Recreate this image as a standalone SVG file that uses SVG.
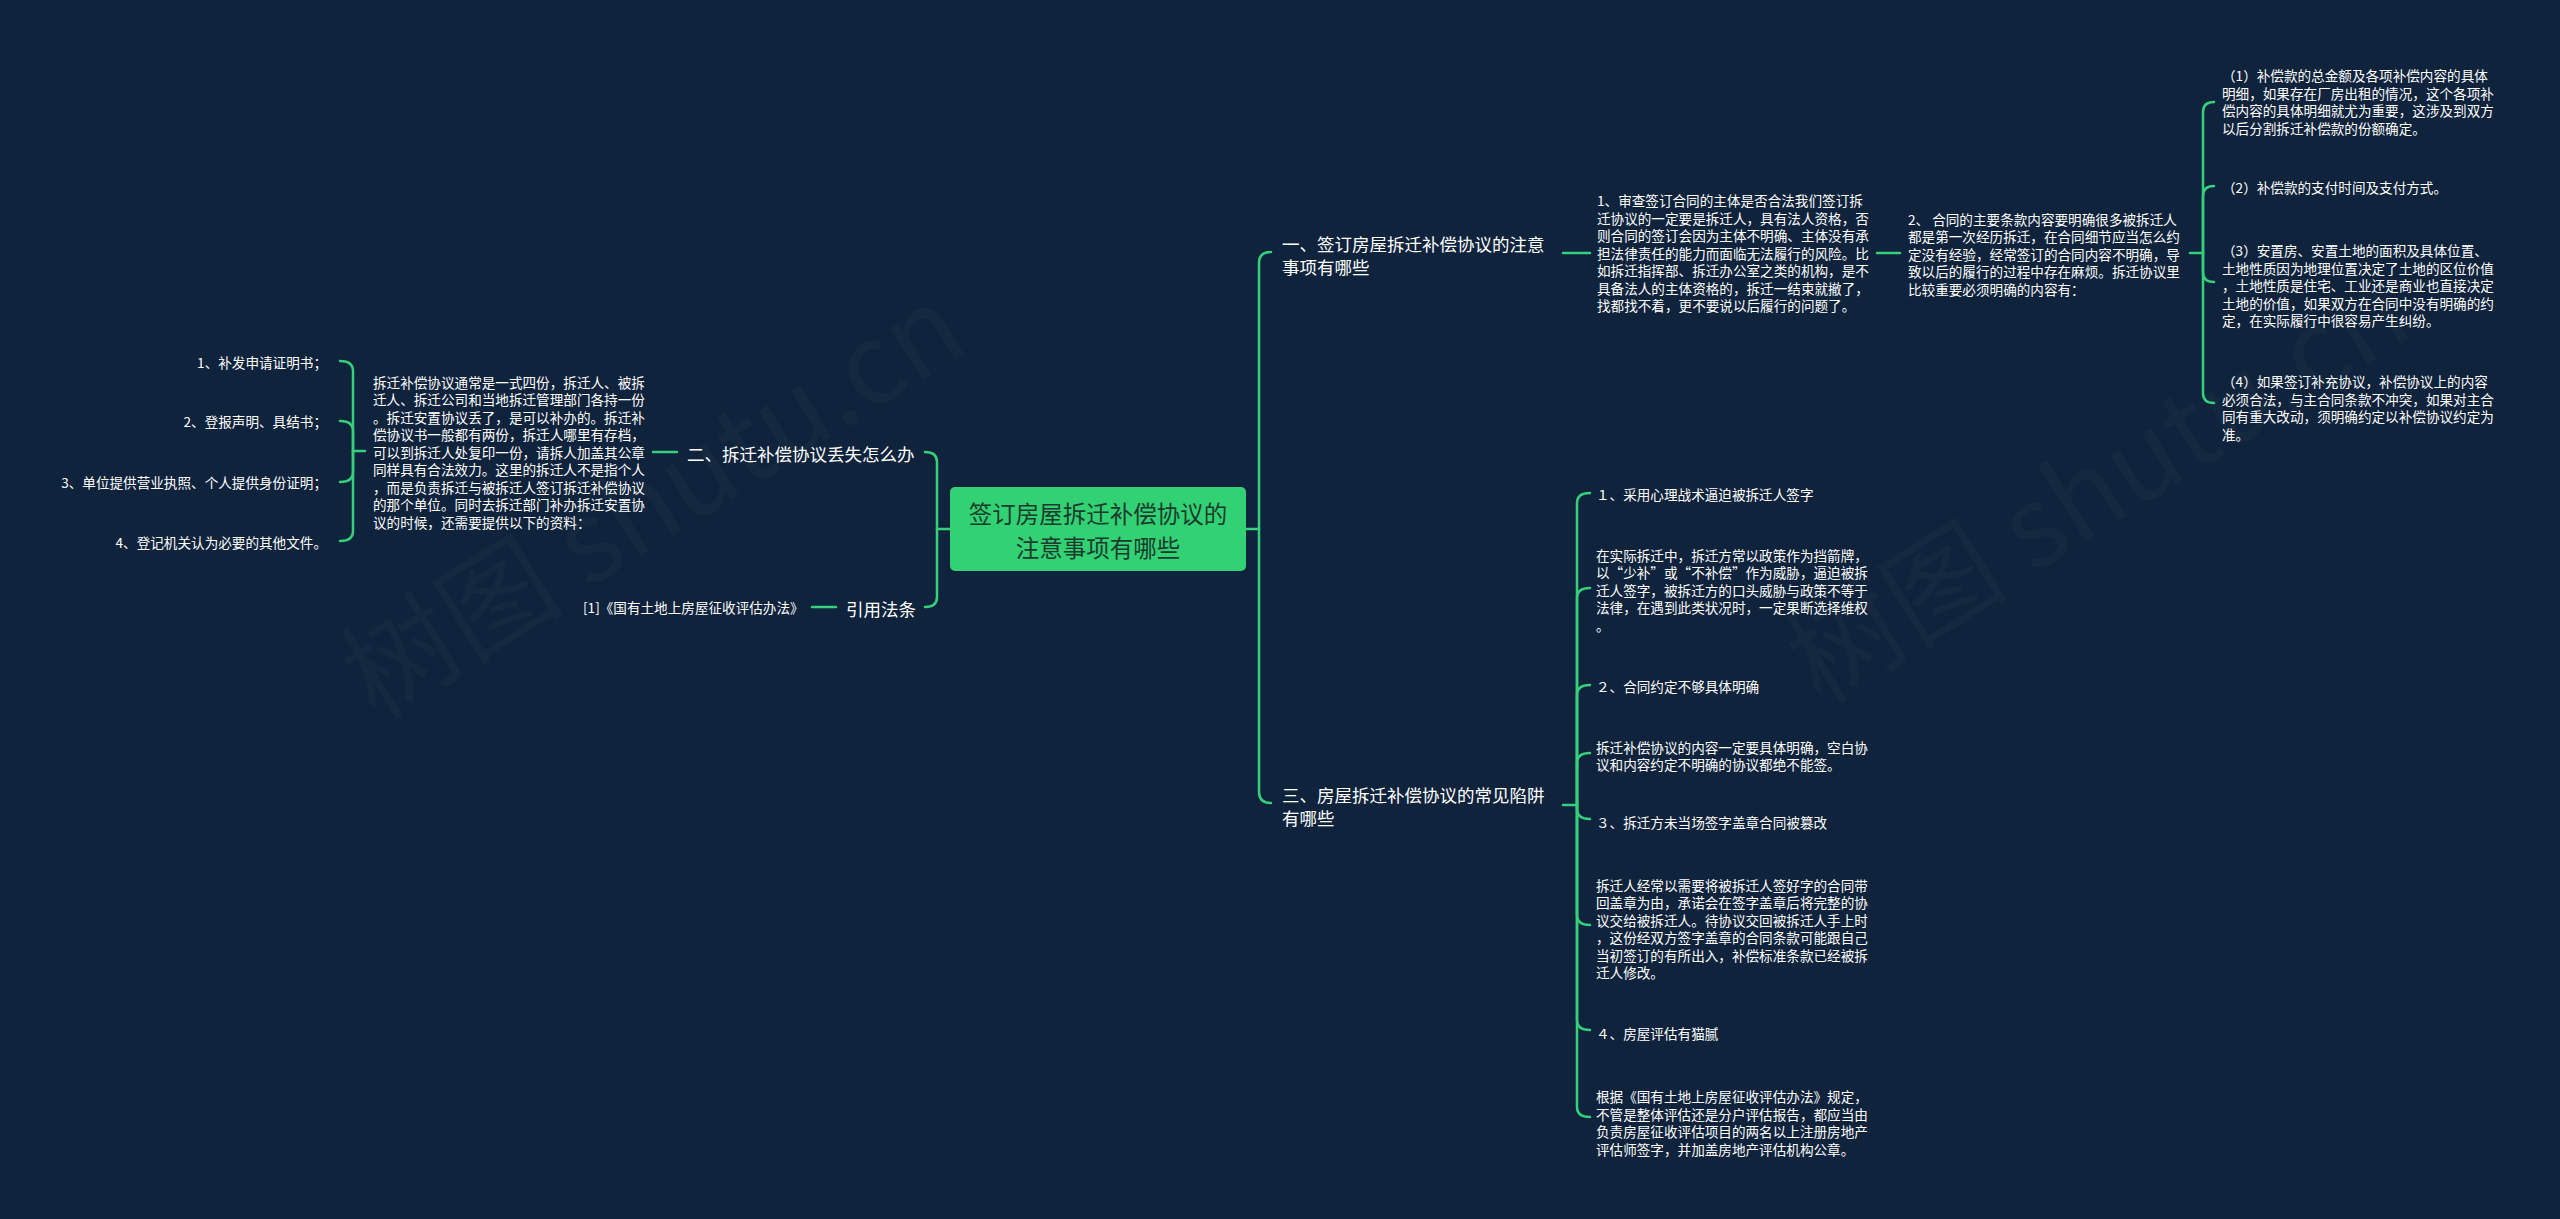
<svg xmlns="http://www.w3.org/2000/svg" width="2560" height="1219" viewBox="0 0 2560 1219">
<defs>
<style>
text { font-family: "Noto Sans CJK SC", "Noto Sans", sans-serif; dominant-baseline: central; }
.bg { fill: #0f233c; }
.c { fill: none; stroke: #36d07c; stroke-width: 2.5; stroke-linecap: round; stroke-linejoin: round; }
.t1 { fill: #ffffff; font-size: 17.5px; }
.t2 { fill: #ffffff; font-size: 13.6px; }
.root { fill: #32d174; }
.rt { fill: #1b3b2c; font-size: 23.5px; text-anchor: middle; }
.wm { fill: #ffffff; fill-opacity: 0.025; font-size: 112px; font-family: "Noto Sans CJK SC", "Noto Sans", sans-serif; }
</style>
</defs>
<rect class="bg" x="0" y="0" width="2560" height="1219"/>

<g id="watermark">
<text class="wm" transform="translate(350,680) rotate(-32)">树图 shutu.cn</text>
<text class="wm" transform="translate(1795,665) rotate(-32)">树图 shutu.cn</text>
</g>

<g id="connectors">
<path class="c" d="M 950 529 L 937 529"/>
<path class="c" d="M 937 529 L 937 462 Q 937 452 925 452"/>
<path class="c" d="M 937 529 L 937 597 Q 937 607 925 607"/>
<path class="c" d="M 677 452 L 653 452"/>
<path class="c" d="M 836 607 L 812 607"/>
<path class="c" d="M 365 451 L 353 451"/>
<path class="c" d="M 353 451 L 353 371 Q 353 361 340 361"/>
<path class="c" d="M 353 451 L 353 431 Q 353 421 340 421"/>
<path class="c" d="M 353 451 L 353 472 Q 353 482 340 482"/>
<path class="c" d="M 353 451 L 353 531 Q 353 541 340 541"/>
<path class="c" d="M 1246 529 L 1259 529"/>
<path class="c" d="M 1259 529 L 1259 263 Q 1259 252 1271 252"/>
<path class="c" d="M 1259 529 L 1259 792 Q 1259 803 1271 803"/>
<path class="c" d="M 1563 253 L 1590 253"/>
<path class="c" d="M 1877 253 L 1900 253"/>
<path class="c" d="M 2190 253 L 2203 253"/>
<path class="c" d="M 2203 253 L 2203 112 Q 2203 102 2214 102"/>
<path class="c" d="M 2203 253 L 2203 196 Q 2203 186 2214 186"/>
<path class="c" d="M 2203 253 L 2203 272 Q 2203 282 2214 282"/>
<path class="c" d="M 2203 253 L 2203 393 Q 2203 403 2214 403"/>
<path class="c" d="M 1563 805 L 1577 805"/>
<path class="c" d="M 1577 805 L 1577 503 Q 1577 493 1590 493"/>
<path class="c" d="M 1577 805 L 1577 598 Q 1577 588 1590 588"/>
<path class="c" d="M 1577 805 L 1577 695 Q 1577 685 1590 685"/>
<path class="c" d="M 1577 805 L 1577 763 Q 1577 753 1590 753"/>
<path class="c" d="M 1577 805 L 1577 809 Q 1577 819 1590 819"/>
<path class="c" d="M 1577 805 L 1577 915 Q 1577 925 1590 925"/>
<path class="c" d="M 1577 805 L 1577 1020 Q 1577 1030 1590 1030"/>
<path class="c" d="M 1577 805 L 1577 1107 Q 1577 1117 1590 1117"/>
</g>

<g id="root">
<rect class="root" x="950" y="487" width="296" height="84" rx="5"/>
<text class="rt" x="1098" y="513">签订房屋拆迁补偿协议的</text>
<text class="rt" x="1098" y="547">注意事项有哪些</text>
</g>

<g id="n-lost">
<text class="t1" x="687" y="453">二、拆迁补偿协议丢失怎么办</text>
</g>
<g id="n-lost-detail">
<text class="t2" x="373">
<tspan x="373" y="381.7">拆迁补偿协议通常是一式四份，拆迁人、被拆</tspan>
<tspan x="373" y="399.2">迁人、拆迁公司和当地拆迁管理部门各持一份</tspan>
<tspan x="373" y="416.7">。拆迁安置协议丢了，是可以补办的。拆迁补</tspan>
<tspan x="373" y="434.2">偿协议书一般都有两份，拆迁人哪里有存档，</tspan>
<tspan x="373" y="451.7">可以到拆迁人处复印一份，请拆人加盖其公章</tspan>
<tspan x="373" y="469.2">同样具有合法效力。这里的拆迁人不是指个人</tspan>
<tspan x="373" y="486.7">，而是负责拆迁与被拆迁人签订拆迁补偿协议</tspan>
<tspan x="373" y="504.2">的那个单位。同时去拆迁部门补办拆迁安置协</tspan>
<tspan x="373" y="521.7">议的时候，还需要提供以下的资料：</tspan>
</text>
</g>
<g id="n-item1"><text class="t2" x="327" y="361.5" text-anchor="end">1、补发申请证明书；</text></g>
<g id="n-item2"><text class="t2" x="327" y="421" text-anchor="end">2、登报声明、具结书；</text></g>
<g id="n-item3"><text class="t2" x="327" y="482" text-anchor="end">3、单位提供营业执照、个人提供身份证明；</text></g>
<g id="n-item4"><text class="t2" x="327" y="541.5" text-anchor="end">4、登记机关认为必要的其他文件。</text></g>

<g id="n-law"><text class="t1" x="846" y="608">引用法条</text></g>
<g id="n-law-ref"><text class="t2" x="583" y="607">[1]《国有土地上房屋征收评估办法》</text></g>

<g id="n-sign">
<text class="t1" x="1282" y="243">一、签订房屋拆迁补偿协议的注意</text>
<text class="t1" x="1282" y="266">事项有哪些</text>
</g>
<g id="n-sign-1">
<text class="t2">
<tspan x="1597" y="200.2">1、审查签订合同的主体是否合法我们签订拆</tspan>
<tspan x="1597" y="217.7">迁协议的一定要是拆迁人，具有法人资格，否</tspan>
<tspan x="1597" y="235.2">则合同的签订会因为主体不明确、主体没有承</tspan>
<tspan x="1597" y="252.7">担法律责任的能力而面临无法履行的风险。比</tspan>
<tspan x="1597" y="270.2">如拆迁指挥部、拆迁办公室之类的机构，是不</tspan>
<tspan x="1597" y="287.7">具备法人的主体资格的，拆迁一结束就撤了，</tspan>
<tspan x="1597" y="305.2">找都找不着，更不要说以后履行的问题了。</tspan>
</text>
</g>
<g id="n-sign-2">
<text class="t2">
<tspan x="1908" y="218.5">2、 合同的主要条款内容要明确很多被拆迁人</tspan>
<tspan x="1908" y="236">都是第一次经历拆迁，在合同细节应当怎么约</tspan>
<tspan x="1908" y="253.5">定没有经验，经常签订的合同内容不明确，导</tspan>
<tspan x="1908" y="271">致以后的履行的过程中存在麻烦。拆迁协议里</tspan>
<tspan x="1908" y="288.5">比较重要必须明确的内容有：</tspan>
</text>
</g>
<g id="n-c1">
<text class="t2">
<tspan x="2222" y="75">（1）补偿款的总金额及各项补偿内容的具体</tspan>
<tspan x="2222" y="92.5">明细，如果存在厂房出租的情况，这个各项补</tspan>
<tspan x="2222" y="110">偿内容的具体明细就尤为重要，这涉及到双方</tspan>
<tspan x="2222" y="127.5">以后分割拆迁补偿款的份额确定。</tspan>
</text>
</g>
<g id="n-c2"><text class="t2" x="2222" y="187">（2）补偿款的支付时间及支付方式。</text></g>
<g id="n-c3">
<text class="t2">
<tspan x="2222" y="250">（3）安置房、安置土地的面积及具体位置、</tspan>
<tspan x="2222" y="267.5">土地性质因为地理位置决定了土地的区位价值</tspan>
<tspan x="2222" y="285">，土地性质是住宅、工业还是商业也直接决定</tspan>
<tspan x="2222" y="302.5">土地的价值，如果双方在合同中没有明确的约</tspan>
<tspan x="2222" y="320">定，在实际履行中很容易产生纠纷。</tspan>
</text>
</g>
<g id="n-c4">
<text class="t2">
<tspan x="2222" y="381">（4）如果签订补充协议，补偿协议上的内容</tspan>
<tspan x="2222" y="398.5">必须合法，与主合同条款不冲突，如果对主合</tspan>
<tspan x="2222" y="416">同有重大改动，须明确约定以补偿协议约定为</tspan>
<tspan x="2222" y="433.5">准。</tspan>
</text>
</g>

<g id="n-trap">
<text class="t1" x="1282" y="794">三、房屋拆迁补偿协议的常见陷阱</text>
<text class="t1" x="1282" y="817">有哪些</text>
</g>
<g id="n-trap-1"><text class="t2" x="1596" y="494">１、采用心理战术逼迫被拆迁人签字</text></g>
<g id="n-trap-1d">
<text class="t2">
<tspan x="1596" y="554.5">在实际拆迁中，拆迁方常以政策作为挡箭牌，</tspan>
<tspan x="1596" y="572">以“少补”或“不补偿”作为威胁，逼迫被拆</tspan>
<tspan x="1596" y="589.5">迁人签字，被拆迁方的口头威胁与政策不等于</tspan>
<tspan x="1596" y="607">法律，在遇到此类状况时，一定果断选择维权</tspan>
<tspan x="1596" y="624.5">。</tspan>
</text>
</g>
<g id="n-trap-2"><text class="t2" x="1596" y="686">２、合同约定不够具体明确</text></g>
<g id="n-trap-2d">
<text class="t2">
<tspan x="1596" y="746.5">拆迁补偿协议的内容一定要具体明确，空白协</tspan>
<tspan x="1596" y="764">议和内容约定不明确的协议都绝不能签。</tspan>
</text>
</g>
<g id="n-trap-3"><text class="t2" x="1596" y="822">３、拆迁方未当场签字盖章合同被篡改</text></g>
<g id="n-trap-3d">
<text class="t2">
<tspan x="1596" y="884.5">拆迁人经常以需要将被拆迁人签好字的合同带</tspan>
<tspan x="1596" y="902">回盖章为由，承诺会在签字盖章后将完整的协</tspan>
<tspan x="1596" y="919.5">议交给被拆迁人。待协议交回被拆迁人手上时</tspan>
<tspan x="1596" y="937">，这份经双方签字盖章的合同条款可能跟自己</tspan>
<tspan x="1596" y="954.5">当初签订的有所出入，补偿标准条款已经被拆</tspan>
<tspan x="1596" y="972">迁人修改。</tspan>
</text>
</g>
<g id="n-trap-4"><text class="t2" x="1596" y="1032.5">４、房屋评估有猫腻</text></g>
<g id="n-trap-4d">
<text class="t2">
<tspan x="1596" y="1096">根据《国有土地上房屋征收评估办法》规定，</tspan>
<tspan x="1596" y="1113.5">不管是整体评估还是分户评估报告，都应当由</tspan>
<tspan x="1596" y="1131">负责房屋征收评估项目的两名以上注册房地产</tspan>
<tspan x="1596" y="1148.5">评估师签字，并加盖房地产评估机构公章。</tspan>
</text>
</g>
</svg>
